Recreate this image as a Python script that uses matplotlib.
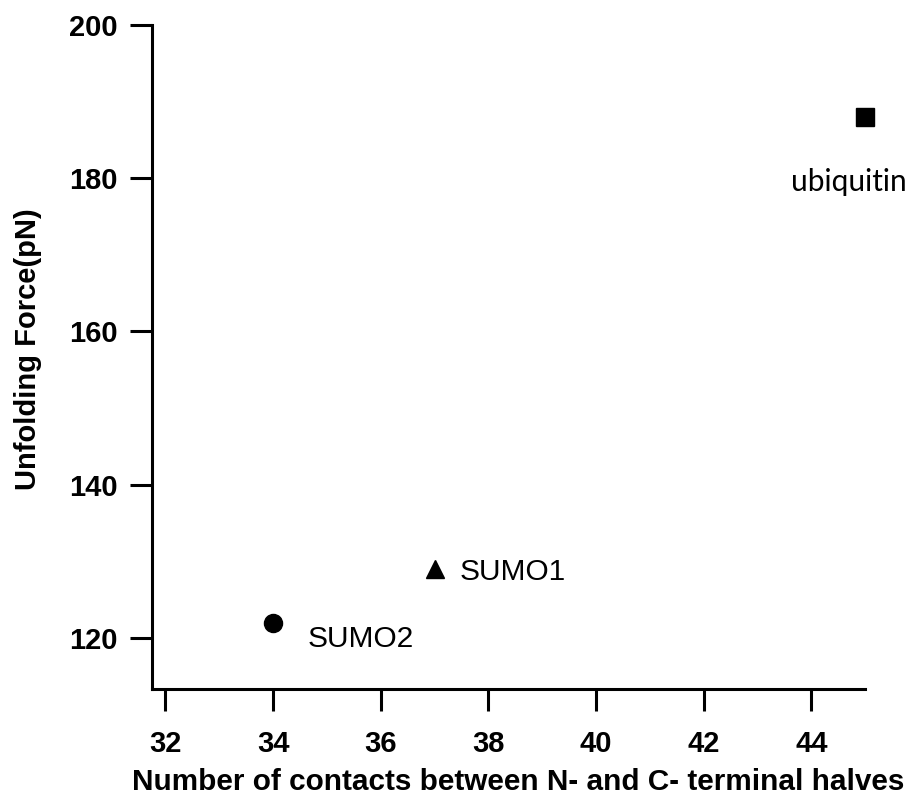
import matplotlib
matplotlib.use('Agg')
import matplotlib.pyplot as plt

plt.rcParams['font.family'] = ['Liberation Sans', 'DejaVu Sans']

# contacts between halves vs. unfolding force
proteins = ['SUMO2', 'SUMO1', 'ubiquitin']
contacts = [34, 37, 45]
forces = [122, 129, 188]
markers = ['o', '^', 's']

fig = plt.figure(figsize=(9.05, 7.95), dpi=100)
ax = fig.add_axes([0.168, 0.133, 0.788, 0.836])

for name, x, y, m in zip(proteins, contacts, forces, markers):
    ax.plot(x, y, marker=m, color='black', markersize=13,
            linestyle='none', clip_on=False)

# labels next to each point
ax.annotate('SUMO2', (contacts[0], forces[0]), xytext=(25, -12), textcoords='offset points',
            fontsize=21.5, va='center', ha='left')
ax.annotate('SUMO1', (contacts[1], forces[1]), xytext=(18, -2), textcoords='offset points',
            fontsize=21.5, va='center', ha='left')
ax.annotate('ubiquitin', (contacts[2], forces[2]), xytext=(-12, -47), textcoords='offset points',
            fontsize=21.5, va='center', ha='center', family=['Lato', 'DejaVu Sans'])

ax.set_xlim(31.75, 45)
ax.set_ylim(113.3, 200)
ax.set_xticks([32, 34, 36, 38, 40, 42, 44])
ax.set_yticks([120, 140, 160, 180, 200])

for side in ['top', 'right']:
    ax.spines[side].set_visible(False)
for side in ['left', 'bottom']:
    ax.spines[side].set_linewidth(2.2)

ax.tick_params(direction='out', length=15.5, width=2.2, labelsize=21)
ax.tick_params(axis='x', pad=14)
ax.tick_params(axis='y', pad=9)
for lbl in ax.get_xticklabels() + ax.get_yticklabels():
    lbl.set_fontweight('bold')

ax.set_xlabel('Number of contacts between N- and C- terminal halves', fontsize=21.4,
              fontweight='bold', labelpad=7, x=0.513)
ax.set_ylabel('Unfolding Force(pN)', fontsize=21, fontweight='bold', labelpad=20, y=0.512)

fig.savefig('out.png', dpi=100)
